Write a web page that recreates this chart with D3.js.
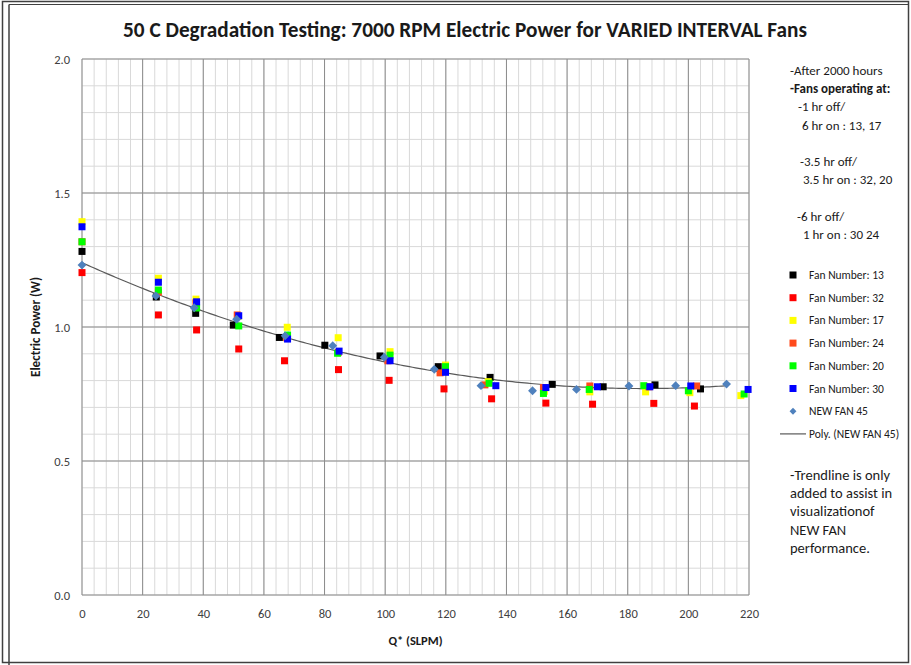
<!DOCTYPE html>
<html><head><meta charset="utf-8">
<script src="https://cdn.jsdelivr.net/npm/d3@7"></script>
<style>
body{margin:0;background:#fff;}
svg text{font-family:Carlito,Calibri,Lato,"Open Sans",sans-serif;}
</style></head>
<body>
<svg id="chart" width="911" height="665"></svg>
<script>
// ---------- DATA ----------
const xTicks = [0,20,40,60,80,100,120,140,160,180,200,220];
const yTicks = [0.0,0.5,1.0,1.5,2.0];

const fan13X = [0,24.5,37.5,49.9,65.1,80.1,98.3,117.5,134.6,155.1,171.9,189.0,204.0];
const fan13Y = [1.282,1.112,1.051,1.007,0.961,0.932,0.892,0.852,0.812,0.786,0.777,0.784,0.769];

const fan32X = [0,25.2,37.8,51.7,66.8,84.6,101.3,119.4,135.1,153.0,168.4,188.6,202.0];
const fan32Y = [1.203,1.045,0.989,0.918,0.874,0.841,0.801,0.769,0.732,0.716,0.712,0.715,0.705];

const fan17X = [0,25.2,37.6,51.5,67.7,84.5,101.6,119.9,134.0,152.5,167.5,185.9,200.5,217.3];
const fan17Y = [1.393,1.182,1.104,1.040,0.999,0.960,0.908,0.858,0.796,0.760,0.758,0.758,0.755,0.744];

const fan24X = [0,25.2,37.6,51.2,67.5,84.5,100.9,118.1,132.9,152.2,167.5,187.0,202.7];
const fan24Y = [1.318,1.130,1.090,1.045,0.960,0.905,0.874,0.829,0.784,0.774,0.780,0.777,0.780];

const fan20X = [0,25.2,37.8,51.7,67.8,84.3,101.6,119.9,134.3,152.2,167.3,185.3,200.0,218.4];
const fan20Y = [1.318,1.138,1.071,1.004,0.970,0.902,0.895,0.852,0.790,0.752,0.767,0.781,0.762,0.750];

const fan30X = [0,25.2,37.8,51.7,67.8,84.8,101.6,119.9,136.5,153.0,170.0,187.3,200.8,219.7];
const fan30Y = [1.374,1.167,1.094,1.042,0.955,0.910,0.874,0.831,0.781,0.774,0.777,0.777,0.780,0.767];

const fan45X = [0,24.4,37.0,51.0,67.0,82.7,99.7,116.2,131.6,148.6,163.1,180.4,195.8,212.6];
const fan45Y = [1.231,1.116,1.072,1.029,0.967,0.930,0.887,0.842,0.781,0.762,0.767,0.780,0.781,0.787];

const seriesNames = ["Fan Number: 13","Fan Number: 32","Fan Number: 17","Fan Number: 24","Fan Number: 20","Fan Number: 30","NEW FAN 45"];
const seriesColors = ["#000000","#FF0000","#FFFF00","#FF4A1C","#00FF00","#0000FF","#4F81BD"];
const trendName = "Poly. (NEW FAN 45)";

const titleText = "50 C Degradation Testing: 7000 RPM Electric Power for VARIED INTERVAL Fans";
const xTitle = "Q* (SLPM)";
const yTitle = "Electric Power (W)";
const noteTop = [
  {t:"-After 2000 hours", b:false, dx:0},
  {t:"-Fans operating at:", b:true, dx:0},
  {t:"-1 hr off/", b:false, dx:8},
  {t:"6 hr on : 13, 17", b:false, dx:12},
  {t:"", b:false, dx:0},
  {t:"-3.5 hr off/", b:false, dx:10},
  {t:"3.5 hr on : 32,  20", b:false, dx:13},
  {t:"", b:false, dx:0},
  {t:"-6 hr off/", b:false, dx:7},
  {t:"1 hr on : 30 24", b:false, dx:13}
];
const noteBottom = ["-Trendline is only","added to assist in","visualizationof","NEW FAN","performance."];

// ---------- LAYOUT ----------
const svg = d3.select("#chart");
const L = 82, R = 749, T = 59, B = 595;
const x = d3.scaleLinear().domain([0,220]).range([L,R]);
const y = d3.scaleLinear().domain([0,2]).range([B,T]);

// chart border (double frame)
svg.append("rect").attr("x",2.5).attr("y",1.5).attr("width",906).attr("height",661)
  .attr("fill","none").attr("stroke","#404040").attr("stroke-width",1.5);
svg.append("line").attr("x1",9).attr("x2",9).attr("y1",4.5).attr("y2",665).attr("stroke","#404040").attr("stroke-width",1.5);
svg.append("line").attr("x1",9).attr("x2",908).attr("y1",4.5).attr("y2",4.5).attr("stroke","#404040").attr("stroke-width",1);

// minor grid
const g = svg.append("g");
g.selectAll("line.mx").data(d3.range(0,221,4)).join("line")
  .attr("x1",d=>x(d)).attr("x2",d=>x(d)).attr("y1",T).attr("y2",B)
  .attr("stroke","#D9D9D9").attr("stroke-width",1);
g.selectAll("line.my").data(d3.range(0,21).map(i=>i/10)).join("line")
  .attr("x1",L).attr("x2",R).attr("y1",d=>y(d)).attr("y2",d=>y(d))
  .attr("stroke","#D9D9D9").attr("stroke-width",1);
// major grid
g.selectAll("line.Mx").data(xTicks).join("line")
  .attr("x1",d=>x(d)).attr("x2",d=>x(d)).attr("y1",T).attr("y2",B)
  .attr("stroke","#8C8C8C").attr("stroke-width",1);
g.selectAll("line.My").data(yTicks).join("line")
  .attr("x1",L).attr("x2",R).attr("y1",d=>y(d)).attr("y2",d=>y(d))
  .attr("stroke","#8C8C8C").attr("stroke-width",1);

// axes labels using d3 axes (no domain/ticks lines)
const xAxis = svg.append("g").attr("transform",`translate(0,${B})`)
  .call(d3.axisBottom(x).tickValues(xTicks).tickSize(0).tickPadding(14).tickFormat(d3.format("d")));
const yAxis = svg.append("g").attr("transform",`translate(${L},0)`)
  .call(d3.axisLeft(y).tickValues(yTicks).tickSize(0).tickPadding(12).tickFormat(d3.format(".1f")));
[xAxis,yAxis].forEach(a=>{
  a.select(".domain").remove();
  a.selectAll("text").attr("font-size",12.5).attr("fill","#404040")
   .style("font-family","Carlito,Calibri,Lato,'Open Sans',sans-serif");
});

// axis titles
svg.append("text").attr("x",(L+R)/2).attr("y",645).attr("text-anchor","middle")
  .attr("font-size",12.5).attr("font-weight","bold").attr("fill","#1a1a1a").text(xTitle);
const yt = svg.append("text").attr("transform",`translate(40,327) rotate(-90)`).attr("text-anchor","middle")
  .attr("font-size",12).attr("font-weight","bold").attr("fill","#1a1a1a").text(yTitle);
{
  const w = yt.node().getComputedTextLength();
  yt.attr("font-size", 12*100/w);
}

// title
const title = svg.append("text").attr("x",465).attr("y",37).attr("text-anchor","middle")
  .attr("font-size",18).attr("font-weight","bold").attr("fill","#1a1a1a").text(titleText);
{
  const w = title.node().getComputedTextLength();
  title.attr("font-size", 18*684/w);
}

// trendline: quadratic least squares fit of NEW FAN 45
function polyfit(xs, ys, deg){
  const n = deg+1;
  const A = Array.from({length:n},()=>Array(n+1).fill(0));
  for(let k=0;k<xs.length;k++){
    for(let i=0;i<n;i++){
      for(let j=0;j<n;j++) A[i][j]+=Math.pow(xs[k],i+j);
      A[i][n]+=ys[k]*Math.pow(xs[k],i);
    }
  }
  for(let i=0;i<n;i++){
    let p=i; for(let r=i+1;r<n;r++) if(Math.abs(A[r][i])>Math.abs(A[p][i])) p=r;
    [A[i],A[p]]=[A[p],A[i]];
    for(let r=0;r<n;r++){ if(r===i) continue; const f=A[r][i]/A[i][i]; for(let c=i;c<=n;c++) A[r][c]-=f*A[i][c]; }
  }
  return A.map((row,i)=>row[n]/row[i]);
}
const coef = polyfit(fan45X, fan45Y, 2);
const trendPts = d3.range(0, d3.max(fan45X)+0.01, 1).map(v=>[v, coef.reduce((s,c,i)=>s+c*Math.pow(v,i),0)]);
svg.append("path").datum(trendPts)
  .attr("d", d3.line().x(d=>x(d[0])).y(d=>y(d[1])))
  .attr("fill","none").attr("stroke","#595959").attr("stroke-width",1.2);

// markers
const fanXs = [fan13X,fan32X,fan17X,fan24X,fan20X,fan30X];
const fanYs = [fan13Y,fan32Y,fan17Y,fan24Y,fan20Y,fan30Y];
const S = 7;
fanXs.forEach((xs,i)=>{
  svg.append("g").selectAll("rect").data(xs.map((v,k)=>[v,fanYs[i][k]])).join("rect")
    .attr("x",d=>x(d[0])-S/2).attr("y",d=>y(d[1])-S/2).attr("width",S).attr("height",S)
    .attr("fill",seriesColors[i]);
});
const diamond = d3.symbol().type(d3.symbolDiamond2).size(50);
svg.append("g").selectAll("path").data(fan45X.map((v,k)=>[v,fan45Y[k]])).join("path")
  .attr("transform",d=>`translate(${x(d[0])},${y(d[1])})`)
  .attr("d",diamond).attr("fill",seriesColors[6]);

// right notes
const nt = svg.append("g");
noteTop.forEach((n,i)=>{
  if(!n.t) return;
  nt.append("text").attr("x",790+n.dx).attr("y",75+i*18.2)
    .attr("font-size",13).attr("font-weight",n.b?"bold":"normal").attr("fill","#1a1a1a").text(n.t);
});

// legend
const lg = svg.append("g");
seriesNames.forEach((name,i)=>{
  const cy = 275 + i*22.7;
  if(i<6){
    lg.append("rect").attr("x",793-3.5).attr("y",cy-3.5).attr("width",7).attr("height",7).attr("fill",seriesColors[i]);
  } else {
    lg.append("path").attr("transform",`translate(793,${cy})`).attr("d",d3.symbol().type(d3.symbolDiamond2).size(30)).attr("fill",seriesColors[6]);
  }
  lg.append("text").attr("x",809).attr("y",cy+4).attr("font-size",11.5).attr("fill","#1a1a1a").text(name);
});
{
  const cy = 275 + 7*22.7;
  lg.append("line").attr("x1",780).attr("x2",806).attr("y1",cy).attr("y2",cy).attr("stroke","#595959").attr("stroke-width",1.2);
  lg.append("text").attr("x",809).attr("y",cy+4).attr("font-size",11.5).attr("fill","#1a1a1a").text(trendName);
}

// bottom note
noteBottom.forEach((t,i)=>{
  svg.append("text").attr("x",790).attr("y",480+i*18.2).attr("font-size",14.5).attr("fill","#1a1a1a").text(t);
});
</script>
</body></html>
